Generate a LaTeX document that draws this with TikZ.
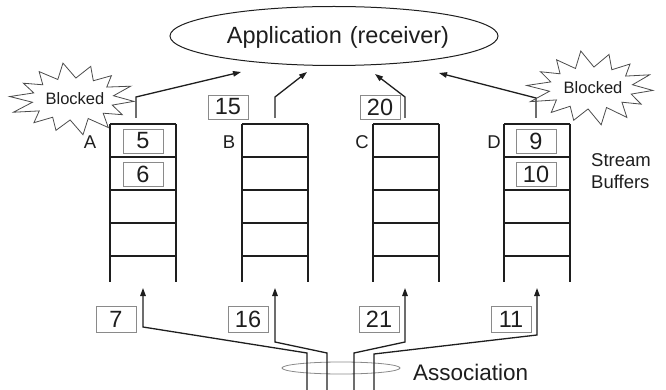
\documentclass[tikz,border=0pt]{standalone}
\usepackage{fontspec}
\setmainfont{Liberation Sans}
\usetikzlibrary{shapes.geometric,arrows.meta}

\definecolor{ink}{HTML}{1E1E1E}
\definecolor{boxgray}{HTML}{8A8A8A}

\tikzset{
  bufline/.style={line width=1.3pt, draw=ink},
  conn/.style={line width=1.3pt, draw=ink, -{Triangle[length=8pt,width=5.5pt]}},
  num/.style={draw=boxgray, line width=0.9pt, minimum width=40pt, minimum height=24pt,
              inner sep=0pt, text=ink, font=\fontsize{23.5}{23.5}\selectfont},
  numlow/.style={num, minimum height=26pt},
  lbl/.style={inner sep=0pt, text=ink, font=\fontsize{18.5}{18.5}\selectfont},
  burst/.style={draw=ink!80, line width=0.8pt, line join=miter},
  burstlbl/.style={inner sep=0pt, text=ink, font=\fontsize{16.5}{16.5}\selectfont},
}

% irregular starburst around a centre (#1,#2), outer radii #3/#4, inner radii #5/#6
\newcommand\drawburst[6]{%
  \draw[burst] plot[samples at={0,...,27}, variable=\k]
    ({#1 + ifthenelse(mod(\k,2)==0, #3*(1+0.07*sin(\k*131)), #5)*cos(\k*360/28 + 4)},
     {#2 + ifthenelse(mod(\k,2)==0, #4*(1+0.07*sin(\k*131)), #6)*sin(\k*360/28 + 4)}) -- cycle;
}

\begin{document}
\begin{tikzpicture}[x=1pt, y=-1pt]
\useasboundingbox (0,0) rectangle (666,390);

% receiving application
\node[draw=ink, line width=1pt, ellipse, minimum width=328pt, minimum height=59pt, inner sep=0pt] (app) at (334,36) {};
\node[inner sep=0pt, text=ink, font=\fontsize{23.5}{23.5}\selectfont] (apptext) at (338,37) {Application\hspace{8pt}(receiver)};

% stream buffers: open-bottomed columns of slots
\foreach \n/\x in {A/110, B/242, C/373, D/504} {
  \draw[bufline] (\x,124) -- (\x,282);
  \draw[bufline] (\x+66,124) -- (\x+66,282);
  \foreach \y in {124,157,190,223,256}
    \draw[bufline] (\x,\y) -- (\x+66,\y);
}

% buffer names
\node[lbl] (labA) at (90,142) {A};
\node[lbl] (labB) at (229,142) {B};
\node[lbl] (labC) at (362,142) {C};
\node[lbl] (labD) at (494,142) {D};
\node[lbl, align=left] (sb) at (621,171) {Stream\\[3pt]Buffers};

% queued chunks
\node[num] (n5)  at (143,141) {5};
\node[num] (n6)  at (143,174) {6};
\node[num] (n9)  at (536,141) {9};
\node[num] (n10) at (536,174) {10};
\node[num] (n15) at (228,107) {15};
\node[num] (n20) at (380,107) {20};

% incoming chunks
\node[numlow] (n7)  at (116,319) {7};
\node[numlow] (n16) at (248,319) {16};
\node[numlow] (n21) at (379,319) {21};
\node[numlow] (n11) at (511,319) {11};

% delivery to the application
\coordinate (A-out) at (136,118); \coordinate (A-bend) at (136,97); \coordinate (A-tip) at (241,72);
\coordinate (B-out) at (275,118); \coordinate (B-bend) at (275,97); \coordinate (B-tip) at (307,72);
\coordinate (C-out) at (405,118); \coordinate (C-bend) at (405,97); \coordinate (C-tip) at (375,74);
\coordinate (D-out) at (536,118); \coordinate (D-bend) at (536,98); \coordinate (D-tip) at (439,73);
\draw[conn] (A-out) -- (A-bend) -- (A-tip);
\draw[conn] (B-out) -- (B-bend) -- (B-tip);
\draw[conn] (C-out) -- (C-bend) -- (C-tip);
\draw[conn] (D-out) -- (D-bend) -- (D-tip);

% association ring around the four streams
\node[draw=boxgray, line width=0.8pt, ellipse, minimum width=118pt, minimum height=12pt, inner sep=0pt] (assoc) at (341,368) {};
\node[inner sep=0pt, text=ink, font=\fontsize{22.5}{22.5}\selectfont, anchor=west] (assoctext) at (413,372) {Association};

% streams arriving into the buffers
\coordinate (sA) at (307,390); \coordinate (sA1) at (307,353); \coordinate (sA2) at (143,327); \coordinate (A-in) at (143,288);
\coordinate (sB) at (327,390); \coordinate (sB1) at (327,353); \coordinate (sB2) at (275,342); \coordinate (B-in) at (275,288);
\coordinate (sC) at (354,390); \coordinate (sC1) at (354,353); \coordinate (sC2) at (405,342); \coordinate (C-in) at (405,288);
\coordinate (sD) at (374,390); \coordinate (sD1) at (374,354); \coordinate (sD2) at (537,335); \coordinate (D-in) at (537,288);
\draw[conn] (sA) -- (sA1) -- (sA2) -- (A-in);
\draw[conn] (sB) -- (sB1) -- (sB2) -- (B-in);
\draw[conn] (sC) -- (sC1) -- (sC2) -- (C-in);
\draw[conn] (sD) -- (sD1) -- (sD2) -- (D-in);

% blocked streams
\drawburst{73}{99}{61}{34}{41}{21}
\node[burstlbl] (blkA) at (75,99) {Blocked};
\drawburst{591}{88}{62}{35}{42}{21}
\node[burstlbl] (blkD) at (593,88) {Blocked};
\end{tikzpicture}
\end{document}
